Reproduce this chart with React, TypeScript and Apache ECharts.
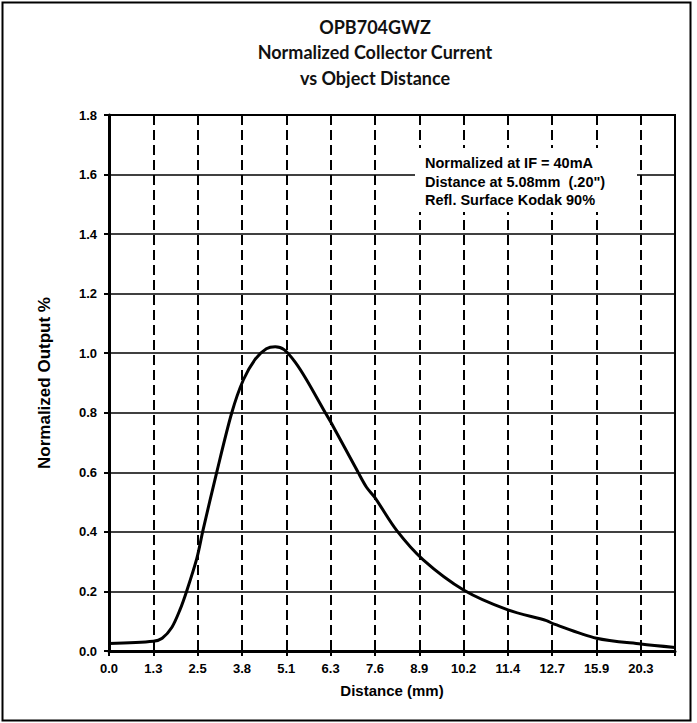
import React, { useEffect, useRef } from "react";
import * as echarts from "echarts";

// Tick labels of the distance axis (equally spaced categories)
const distanceLabels = ["0.0", "1.3", "2.5", "3.8", "5.1", "6.3", "7.6", "8.9", "10.2", "11.4", "12.7", "15.9", "20.3"];
// Curve sample positions, in category-slot units along the distance axis
const curvePositions = [0, 1.0, 1.2, 1.42, 1.6, 1.75, 1.98, 2.12, 2.43, 2.77, 3.03, 3.3, 3.55, 3.75, 3.95, 4.2, 4.46, 4.88, 5.0, 5.62, 5.81, 6.0, 6.49, 7.09, 8.0, 9.0, 9.87, 10.0, 11.0, 12.0, 12.77];
// Normalized output
const outputValues = [0.025, 0.033, 0.043, 0.08, 0.138, 0.2, 0.31, 0.405, 0.6, 0.8, 0.91, 0.98, 1.015, 1.022, 1.012, 0.97, 0.91, 0.8, 0.77, 0.6, 0.55, 0.515, 0.405, 0.306, 0.205, 0.138, 0.102, 0.093, 0.043, 0.0235, 0.012];

const titleLines = ["OPB704GWZ", "Normalized Collector Current", "vs Object Distance"];
const noteLines = ["Normalized at IF = 40mA", "Distance at 5.08mm  (.20\")", "Refl. Surface Kodak 90%"];

export default function App() {
  const ref = useRef<HTMLDivElement>(null);
  useEffect(() => {
    document.body.style.margin = "0";
    const chart = echarts.init(ref.current!, null, { renderer: "svg" });
    const font = "'Liberation Sans', Arial, sans-serif";
    const xMax = curvePositions[curvePositions.length - 1];
    chart.setOption({
      animation: false,
      backgroundColor: "#ffffff",
      title: {
        text: titleLines.join("\n"),
        left: 370,
        top: 9,
        textAlign: "center",
        textStyle: { fontFamily: "Lato, 'Open Sans', sans-serif", fontWeight: "bold", fontSize: 18, lineHeight: 25.5, color: "#111" },
      },
      grid: { left: 109, right: 22, top: 115, bottom: 72, show: true, borderColor: "#000", borderWidth: 2, backgroundColor: "transparent" },
      xAxis: {
        type: "value",
        min: 0,
        max: xMax,
        interval: 1,
        name: "Distance (mm)",
        nameLocation: "middle",
        nameGap: 32,
        nameTextStyle: { fontFamily: font, fontWeight: "bold", fontSize: 15, color: "#000" },
        axisLine: { show: true, lineStyle: { color: "#000", width: 3 } },
        axisTick: { show: true, length: 5, lineStyle: { color: "#000", width: 2 } },
        axisLabel: {
          margin: 11,
          fontFamily: font,
          fontWeight: "bold",
          fontSize: 13,
          color: "#000",
          formatter: (v: number) => {
            const i = Math.round(v);
            return Math.abs(v - i) < 1e-6 && distanceLabels[i] !== undefined ? distanceLabels[i] : "";
          },
        },
        splitLine: { show: true, lineStyle: { color: "#000", width: 2, type: [10, 5] } },
      },
      yAxis: {
        type: "value",
        min: 0,
        max: 1.8,
        interval: 0.2,
        name: "Normalized Output %",
        nameLocation: "middle",
        nameGap: 56,
        nameTextStyle: { fontFamily: font, fontWeight: "bold", fontSize: 17, color: "#000" },
        axisLine: { show: true, lineStyle: { color: "#000", width: 3 } },
        axisTick: { show: true, length: 5, lineStyle: { color: "#000", width: 2 } },
        axisLabel: { margin: 12, fontFamily: font, fontWeight: "bold", fontSize: 13, color: "#000", formatter: (v: number) => v.toFixed(1) },
        splitLine: { show: true, lineStyle: { color: "#000", width: 1.5 } },
      },
      series: [
        {
          type: "line",
          data: curvePositions.map((p, i) => [p, outputValues[i]]),
          smooth: 0.3,
          showSymbol: false,
          lineStyle: { color: "#000", width: 3 },
          z: 5,
        },
      ],
      graphic: [
        { type: "rect", left: 0, top: 0, z: 100, shape: { x: 6, y: 2, width: 688, height: 718 }, style: { fill: "none", stroke: "#000", lineWidth: 2 } },
        { type: "rect", z: 10, shape: { x: 415, y: 148, width: 222, height: 64 }, style: { fill: "#fff" } },
        {
          type: "text",
          z: 11,
          x: 425,
          y: 154,
          style: { text: noteLines.join("\n"), fontFamily: font, fontWeight: "bold", fontSize: 14.5, lineHeight: 18.5, fill: "#000" },
        },
      ],
    });
    return () => chart.dispose();
  }, []);
  return <div ref={ref} style={{ width: 697, height: 723 }} />;
}
